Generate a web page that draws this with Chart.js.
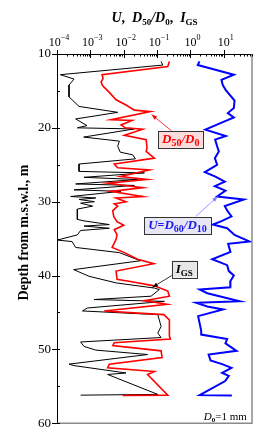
<!DOCTYPE html>
<html>
<head>
<meta charset="utf-8">
<script src="https://cdn.jsdelivr.net/npm/chart.js@4.4.1/dist/chart.umd.min.js"></script>
<style>
  html, body { margin: 0; padding: 0; background: #fff; }
</style>
</head>
<body>
<canvas id="myChart" width="267" height="437"></canvas>
<script>
// I_GS (black)
const depthIGS = [11.0, 11.5, 12.8, 13.4, 14.2, 15.8, 17.1, 17.9, 18.8, 19.7, 20.0, 20.15, 21.25, 21.8, 22.5, 23.3,
  23.65, 24.2, 24.9, 25.9, 26.1, 26.7, 27.0, 27.6, 27.8, 28.4, 28.6, 29.3, 29.5, 29.7, 30.0, 30.2, 30.6, 31.0, 32.4,
  32.6, 33.1, 33.3, 33.6, 33.9, 34.5, 35.2, 35.4, 36.2, 36.9, 38.0, 39.2, 40.1, 41.0, 41.7, 41.9, 42.8, 43.25, 43.5,
  44.4, 44.8, 45.3, 46.9, 47.8, 48.4, 49.0, 49.6, 50.1, 50.7, 52.0, 52.2, 53.2, 53.4, 56.1, 56.2];
const valueIGS = [0.132, 0.148, 0.000126, 0.000324, 0.000229, 0.000229, 0.000457, 0.0066, 0.000363, 0.000794, 0.000407,
  0.0209, 0.00063, 0.0074, 0.0066, 0.0079, 0.0186, 0.0224, 0.000457, 0.000457, 0.0417, 0.000646, 0.0263, 0.000363,
  0.0209, 0.000324, 0.0083, 0.000257, 0.00145, 0.000457, 0.00132, 0.00051, 0.00117, 0.000407, 0.000407, 0.000646,
  0.0037, 0.000646, 0.0037, 0.00051, 0.000407, 0.000102, 0.000282, 0.000363, 0.0074, 0.0316, 0.000316, 0.00091,
  0.0059, 0.083, 0.117, 0.066, 0.00129, 0.166, 0.00081, 0.00058, 0.105, 0.132, 0.105, 0.132, 0.00051, 0.000646,
  0.00145, 0.052, 0.000229, 0.000324, 0.0117, 0.0033, 0.105, 0.00051];

// D50/D0 (red)
const depthD50 = [11.0, 11.7, 12.8, 13.3, 13.8, 14.3, 15.2, 16.2, 16.9, 17.6, 17.8, 18.9, 19.0, 19.6, 20.0, 20.2, 21.0,
  21.6, 22.7, 23.2, 24.1, 24.9, 25.4, 25.7, 26.6, 27.0, 27.5, 28.1, 28.6, 29.3, 29.5, 30.0, 30.3, 30.6, 31.2, 32.0,
  32.7, 33.2, 33.8, 34.5, 35.1, 36.2, 36.9, 37.8, 38.4, 39.4, 40.5, 40.8, 41.4, 42.1, 42.8, 43.4, 43.9, 44.8, 45.3,
  46.0, 48.2, 48.6, 49.1, 49.5, 50.2, 51.1, 52.0, 52.5, 53.0, 53.4, 56.2, 56.25];
const valueD50 = [0.234, 0.209, 0.00224, 0.0024, 0.0021, 0.00234, 0.0037, 0.0059, 0.0117, 0.0209, 0.063, 0.0042, 0.0178,
  0.0083, 0.0112, 0.037, 0.0105, 0.047, 0.05, 0.047, 0.083, 0.0052, 0.0066, 0.059, 0.0079, 0.05, 0.0033, 0.037, 0.0042,
  0.037, 0.0059, 0.0117, 0.0052, 0.0066, 0.0047, 0.005, 0.0063, 0.01, 0.0052, 0.0063, 0.0059, 0.0045, 0.0105, 0.026,
  0.079, 0.0059, 0.0063, 0.0158, 0.083, 0.209, 0.234, 0.0417, 0.2, 0.0026, 0.158, 0.234, 0.234, 0.25, 0.0052, 0.0047,
  0.132, 0.141, 0.0037, 0.0033, 0.083, 0.052, 0.209, 0.0093];

// U = D60/D10 (blue)
const depthU = [11.0, 11.5, 12.8, 13.5, 14.2, 14.9, 16.3, 17.3, 18.0, 18.6, 19.1, 20.25, 21.1, 21.6, 22.5, 23.2, 24.1,
  25.0, 26.0, 26.6, 27.3, 27.9, 28.5, 29.3, 29.7, 30.6, 31.2, 32.0, 32.6, 33.1, 33.6, 34.5, 35.4, 35.7, 36.8, 37.8,
  38.6, 39.4, 40.0, 40.8, 41.6, 41.9, 42.4, 43.5, 43.7, 44.2, 44.6, 45.5, 47.5, 48.0, 48.6, 49.2, 50.2, 50.7, 51.5,
  52.0, 52.5, 53.2, 53.6, 54.3, 56.2, 56.25];
const valueU = [1.86, 1.66, 20, 8.5, 9.3, 11.5, 21, 20, 13.2, 20, 11, 2.8, 11.5, 5.5, 6.3, 7.1, 5.4, 6.3, 2.7, 5.6, 10.7,
  5.4, 11.2, 6.3, 40, 10.7, 12.6, 17, 8.9, 4.7, 12.6, 21, 60, 13.5, 15.8, 4.5, 12.6, 14.1, 20, 15.5, 15.8, 1.9, 3.2, 30,
  1.5, 3.2, 9.5, 1.7, 2.1, 2.1, 12.6, 11.2, 24, 3.5, 4, 8.9, 17, 8.9, 14.1, 11, 1.9, 17.4];

const xTickPowers = [-4, -3, -2, -1, 0, 1];
const yTickValues = [10, 15, 20, 25, 30, 35, 40, 45, 50, 55, 60];

const SERIF = '"Liberation Serif", "Times New Roman", serif';
const pts = (xs, ys) => xs.map((x, i) => ({ x: x, y: ys[i] }));

// x ticks: decades plus 2..9 minors
const xTicks = [];
xTickPowers.forEach(p => {
  for (let k = 1; k <= 9; k++) {
    const v = k * Math.pow(10, p);
    if (v <= 70) xTicks.push(v);
  }
});

function drawRich(ctx, parts, x, y, align) {
  let w = 0;
  parts.forEach(p => { ctx.font = p[1]; w += ctx.measureText(p[0]).width; });
  let cx = align === "center" ? x - w / 2 : align === "right" ? x - w : x;
  parts.forEach(p => {
    ctx.font = p[1];
    ctx.fillText(p[0], cx, y + (p[2] || 0));
    cx += ctx.measureText(p[0]).width;
  });
  return w;
}

function arrow(ctx, x1, y1, x2, y2, color) {
  const a = Math.atan2(y2 - y1, x2 - x1);
  ctx.strokeStyle = color;
  ctx.fillStyle = color;
  ctx.lineWidth = 0.8;
  ctx.beginPath();
  ctx.moveTo(x1, y1);
  ctx.lineTo(x2, y2);
  ctx.stroke();
  ctx.beginPath();
  ctx.moveTo(x2, y2);
  ctx.lineTo(x2 - 6 * Math.cos(a - 0.35), y2 - 6 * Math.sin(a - 0.35));
  ctx.lineTo(x2 - 6 * Math.cos(a + 0.35), y2 - 6 * Math.sin(a + 0.35));
  ctx.closePath();
  ctx.fill();
}

// annotation: box centre, arrow tail and tip, in data coordinates
const labels = [
  { parts: [["D", "bold italic 13px " + SERIF], ["50", "bold 10px " + SERIF, 3], ["/", "bold italic 13px " + SERIF],
    ["D", "bold italic 13px " + SERIF], ["0", "bold 10px " + SERIF, 3]],
    color: "#ff0000", bg: "#fadcdc", arrowColor: "#ff0000", box: [0.51, 21.55], tail: [0.27, 20.4], tip: [0.068, 18.2] },
  { parts: [["U", "bold italic 13px " + SERIF], ["=", "bold 12px " + SERIF], ["D", "bold italic 13px " + SERIF],
    ["60", "bold 10px " + SERIF, 3], ["/", "bold italic 13px " + SERIF], ["D", "bold italic 13px " + SERIF],
    ["10", "bold 10px " + SERIF, 3]],
    color: "#1a1aee", bg: "#e6e6f4", arrowColor: "#7f7fff", box: [0.41, 33.24], tail: [1.44, 32.0], tip: [6.6, 29.3] },
  { parts: [["I", "bold italic 13px " + SERIF], ["GS", "bold 9px " + SERIF, 3]],
    color: "#000", bg: "#e6e6e6", arrowColor: "#000", box: [0.65, 39.12], tail: [0.31, 39.86], tip: [0.072, 41.6] },
];

const decor = {
  id: "decor",
  afterDraw(chart) {
    const ctx = chart.ctx;
    const a = chart.chartArea;
    const xs = chart.scales.x, ys = chart.scales.y;
    ctx.save();
    // right and bottom frame
    ctx.strokeStyle = "#8a8a8a";
    ctx.lineWidth = 1.5;
    ctx.beginPath();
    ctx.moveTo(a.right, a.top);
    ctx.lineTo(a.right, a.bottom);
    ctx.lineTo(a.left, a.bottom);
    ctx.stroke();
    // tick marks
    ctx.strokeStyle = "#000";
    ctx.lineWidth = 1;
    ctx.beginPath();
    xTicks.forEach(v => {
      const x = Math.round(xs.getPixelForValue(v)) + 0.5;
      const major = Math.abs(Math.log10(v) - Math.round(Math.log10(v))) < 1e-9;
      ctx.moveTo(x, major ? a.top - 4 : a.top);
      ctx.lineTo(x, major ? a.top + 4 : a.top + 2.5);
    });
    yTickValues.forEach(v => {
      const y = Math.round(ys.getPixelForValue(v)) + 0.5;
      const major = v % 10 === 0;
      ctx.moveTo(major ? a.left - 5 : a.left, y);
      ctx.lineTo(a.left + 3, y);
    });
    ctx.stroke();
    // x tick labels
    ctx.fillStyle = "#000";
    ctx.textBaseline = "alphabetic";
    xTickPowers.forEach(p => {
      const x = xs.getPixelForValue(Math.pow(10, p));
      drawRich(ctx, [["10", "12px " + SERIF], [String(p).replace("-", "\u2212"), "8px " + SERIF, -6]], x + 2, a.top - 8, "center");
    });
    // title
    const t = "bold italic 14px " + SERIF, tb = "bold 14px " + SERIF, ts = "bold 9px " + SERIF;
    drawRich(ctx, [["U", t], [",  ", tb], ["D", t], ["50", ts, 3], ["/", t], ["D", t], ["0", ts, 3], [",  ", tb],
      ["I", t], ["GS", ts, 3]], (a.left + a.right) / 2, 22, "center");
    // y title
    ctx.save();
    ctx.translate(28, (a.top + a.bottom) / 2 - 6);
    ctx.rotate(-Math.PI / 2);
    ctx.font = "bold 14px " + SERIF;
    ctx.textAlign = "center";
    ctx.fillText("Depth from m.s.w.l., m", 0, 0);
    ctx.restore();
    // annotations
    labels.forEach(l => {
      const tx = xs.getPixelForValue(l.tail[0]), ty = ys.getPixelForValue(l.tail[1]);
      const px = xs.getPixelForValue(l.tip[0]), py = ys.getPixelForValue(l.tip[1]);
      arrow(ctx, tx, ty, px, py, l.arrowColor);
      const bx = xs.getPixelForValue(l.box[0]), by = ys.getPixelForValue(l.box[1]);
      let w = 0;
      l.parts.forEach(p => { ctx.font = p[1]; w += ctx.measureText(p[0]).width; });
      const bw = w + 8, bh = 17;
      ctx.fillStyle = l.bg;
      ctx.fillRect(bx - bw / 2, by - bh / 2, bw, bh);
      ctx.strokeStyle = "#333";
      ctx.lineWidth = 1;
      ctx.strokeRect(Math.round(bx - bw / 2) + 0.5, Math.round(by - bh / 2) + 0.5, Math.round(bw), bh);
      ctx.fillStyle = l.color;
      drawRich(ctx, l.parts, bx, by + 3.5, "center");
    });
    // D0 note
    ctx.fillStyle = "#000";
    drawRich(ctx, [["D", "italic 11px " + SERIF], ["0", "bold 7px " + SERIF, 2], ["=1 mm", "11px " + SERIF]],
      xs.getPixelForValue(49), ys.getPixelForValue(59.5), "right");
    ctx.restore();
  },
};

const line = (data, color, width, order) => ({
  data: data, borderColor: color, backgroundColor: color, borderWidth: width,
  showLine: true, pointRadius: 0, tension: 0, fill: false, order: order, borderJoinStyle: "miter",
});

new Chart(document.getElementById("myChart"), {
  type: "scatter",
  data: {
    datasets: [
      line(pts(valueD50, depthD50), "#ff0000", 1.6, 1),
      line(pts(valueIGS, depthIGS), "#000000", 1, 2),
      line(pts(valueU, depthU), "#0000ff", 2, 3),
    ],
  },
  options: {
    responsive: false,
    animation: false,
    layout: { padding: { left: 0, top: 0, right: 15, bottom: 13 } },
    plugins: { legend: { display: false }, tooltip: { enabled: false } },
    scales: {
      x: {
        type: "logarithmic",
        position: "top",
        min: 1e-4,
        max: 70,
        afterBuildTicks: s => { s.ticks = xTicks.map(v => ({ value: v })); },
        afterFit: s => { s.height = 54; },
        ticks: { display: false },
        grid: { display: false, drawTicks: false },
        border: { display: true, color: "#000", width: 1 },
      },
      y: {
        type: "linear",
        reverse: true,
        min: 10,
        max: 60,
        afterBuildTicks: s => { s.ticks = yTickValues.map(v => ({ value: v })); },
        afterFit: s => { s.width = 57; },
        ticks: {
          callback: v => (v % 10 === 0 ? String(v) : ""),
          color: "#000",
          font: { family: SERIF, size: 13 },
          padding: 6,
          autoSkip: false,
        },
        grid: { display: false, drawTicks: false },
        border: { display: true, color: "#000", width: 1 },
      },
    },
  },
  plugins: [decor],
});
</script>
</body>
</html>
